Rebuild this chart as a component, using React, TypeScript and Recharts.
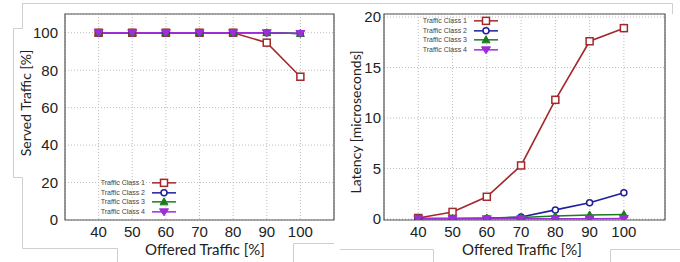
import React from "react";
import { LineChart, Line, XAxis, YAxis, CartesianGrid, Legend, ReferenceArea } from "recharts";

const offered = [40, 50, 60, 70, 80, 90, 100];
const seriesNames = ["Traffic Class 1", "Traffic Class 2", "Traffic Class 3", "Traffic Class 4"];

const servedC1 = [100, 100, 100, 100, 100, 94.7, 76.5];
const servedC2 = [100, 100, 100, 100, 100, 100, 99.6];
const servedC3 = [100, 100, 100, 100, 100, 100, 99.6];
const servedC4 = [100, 100, 100, 100, 100, 100, 99.6];

const latC1 = [0.1, 0.7, 2.2, 5.3, 11.8, 17.6, 18.9];
const latC2 = [0.05, 0.05, 0.05, 0.2, 0.9, 1.6, 2.6];
const latC3 = [0.05, 0.05, 0.1, 0.15, 0.3, 0.4, 0.45];
const latC4 = [0.02, 0.02, 0.02, 0.02, 0.02, 0.02, 0.05];

const xTicks = [40, 50, 60, 70, 80, 90, 100];
const servedTicks = [0, 20, 40, 60, 80, 100];
const latTicks = [0, 5, 10, 15, 20];

const colors = ["#a3282b", "#1f1f9c", "#1c7c1c", "#9c2fd8"];
const shapes = ["square", "circle", "triUp", "triDown"];

const servedData = offered.map((x, i) => ({ x, c1: servedC1[i], c2: servedC2[i], c3: servedC3[i], c4: servedC4[i] }));
const latData = offered.map((x, i) => ({ x, c1: latC1[i], c2: latC2[i], c3: latC3[i], c4: latC4[i] }));

function Marker({ cx, cy, shape, color }: any) {
  if (cx == null || cy == null) return null;
  if (shape === "square")
    return <rect x={cx - 3.5} y={cy - 3.5} width={7} height={7} fill="#fff" stroke={color} strokeWidth={1.5} />;
  if (shape === "circle") return <circle cx={cx} cy={cy} r={3} fill="#fff" stroke={color} strokeWidth={1.5} />;
  if (shape === "triUp")
    return <path d={`M${cx},${cy - 4}L${cx + 4},${cy + 3}L${cx - 4},${cy + 3}Z`} fill={color} stroke={color} strokeWidth={1} />;
  return <path d={`M${cx},${cy + 4}L${cx + 4.5},${cy - 3}L${cx - 4.5},${cy - 3}Z`} fill={color} stroke={color} strokeWidth={1} />;
}

const makeDot = (i: number) => (props: any) => (
  <Marker key={`d${i}-${props.index}`} cx={props.cx} cy={props.cy} shape={shapes[i]} color={colors[i]} />
);

function LegendBox() {
  return (
    <div style={{ fontFamily: "Liberation Sans, Arial, sans-serif", fontSize: 7, color: "#444" }}>
      {seriesNames.map((n, i) => (
        <div key={n} style={{ display: "flex", alignItems: "center", height: 9.7 }}>
          <span style={{ width: 56, textAlign: "right", lineHeight: "9.7px", whiteSpace: "nowrap" }}>{n}</span>
          <svg width={28} height={9.7} style={{ marginLeft: 5 }}>
            <line x1={2} y1={4.85} x2={26} y2={4.85} stroke={colors[i]} strokeWidth={1.5} />
            <Marker cx={14} cy={4.85} shape={shapes[i]} color={colors[i]} />
          </svg>
        </div>
      ))}
    </div>
  );
}

const tickStyle = { fontFamily: "Liberation Sans, Arial, sans-serif", fontSize: 15, fill: "#222" };
const labelFont = "Lato, Open Sans, sans-serif";

function YLabel(text: string, cx: number, cy: number) {
  return () => (
    <text x={cx} y={cy} transform={`rotate(-90 ${cx} ${cy})`} textAnchor="middle" dominantBaseline="central"
      fontFamily={labelFont} fontSize={14} fill="#222">{text}</text>
  );
}
function XLabel(text: string, cx: number, cy: number) {
  return () => (
    <text x={cx} y={cy} textAnchor="middle" dominantBaseline="central" fontFamily={labelFont} fontSize={15} fill="#222">{text}</text>
  );
}

function Panel({ data, yDomain, yTicks, xDomain, yLabel, yLabelPos, xLabelPos, legendPos, margin, yWidth, yTickMargin }: any) {
  return (
    <LineChart width={340} height={262} data={data} margin={margin}>
      <CartesianGrid stroke="#bdbdbd" strokeDasharray="1 2" />
      <XAxis dataKey="x" type="number" domain={xDomain} ticks={xTicks} allowDataOverflow
        axisLine={false} tickLine={false} tickSize={0} tick={tickStyle} tickMargin={6} height={42}
        label={{ content: XLabel("Offered Traffic [%]", xLabelPos[0], xLabelPos[1]) }} />
      <YAxis type="number" domain={yDomain} ticks={yTicks} allowDataOverflow width={yWidth}
        axisLine={false} tickLine={false} tickSize={0} tick={tickStyle} tickMargin={yTickMargin}
        label={{ content: YLabel(yLabel, yLabelPos[0], yLabelPos[1]) }} />
      <ReferenceArea x1={xDomain[0]} x2={xDomain[1]} y1={yDomain[0]} y2={yDomain[1]} fill="none"
        stroke="#555" strokeWidth={1.2} ifOverflow="visible" />
      {["c1", "c2", "c3", "c4"].map((k, i) => (
        <Line key={k} dataKey={k} stroke={colors[i]} strokeWidth={1.6} dot={makeDot(i)}
          isAnimationActive={false} activeDot={false} />
      ))}
      <Legend layout="vertical" align="center" verticalAlign="middle" content={() => <LegendBox />}
        wrapperStyle={{ position: "absolute", left: legendPos[0], top: legendPos[1], width: 100, height: 40 }} />
    </LineChart>
  );
}

export default function App() {
  return (
    <div style={{ position: "absolute", left: 0, top: 0, width: 680, height: 262, background: "#fff", overflow: "hidden" }}>
      <svg width={680} height={262} style={{ position: "absolute", left: 0, top: 0 }}>
        <g fill="none" stroke="#cfcfcf" strokeWidth={1}>
          <path d="M22,3.5H340" />
          <path d="M22.5,3V28.5H13.5V177.5H22.5V248.5H117.5V262" />
          <path d="M293.5,262V243.5H334" />
          <path d="M340,3.5H672.5V14" />
          <path d="M340,249.5H433.5V262" />
          <path d="M610.5,262V249.5H680" />
        </g>
      </svg>
      <div style={{ position: "absolute", left: 0, top: 0 }}>
        <Panel data={servedData} yDomain={[0, 110]} yTicks={servedTicks} xDomain={[30, 110]}
          yLabel="Served Traffic [%]" yLabelPos={[25, 103]} xLabelPos={[205, 249]} legendPos={[89, 178]}
          margin={{ top: 14, right: 6, bottom: 0, left: 0 }} yWidth={65} yTickMargin={7} />
      </div>
      <div style={{ position: "absolute", left: 340, top: 0 }}>
        <Panel data={latData} yDomain={[-0.1, 20.3]} yTicks={latTicks} xDomain={[30, 112]}
          yLabel="Latency [microseconds]" yLabelPos={[15, 122]} xLabelPos={[182, 249]} legendPos={[71, 16]}
          margin={{ top: 14, right: 15, bottom: 0, left: 0 }} yWidth={44} yTickMargin={3} />
      </div>
    </div>
  );
}
